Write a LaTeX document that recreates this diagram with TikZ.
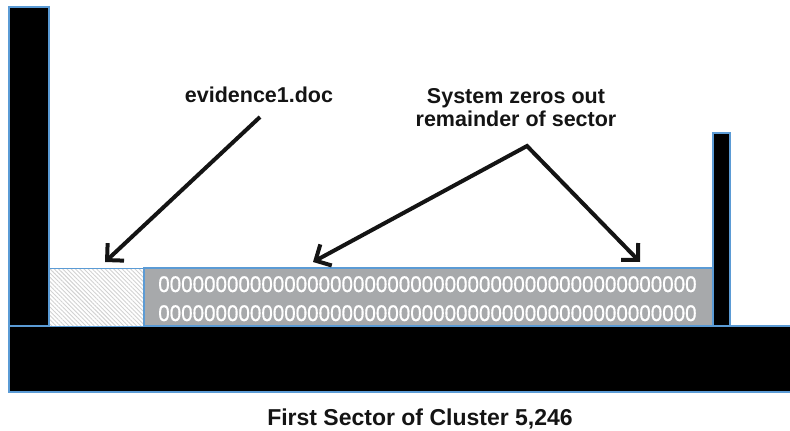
\documentclass[tikz,border=0pt]{standalone}
\usepackage{fontspec}
\setmainfont{Liberation Sans}
\newfontfamily\zerofont[FakeBold=0.7]{Liberation Sans}
\usetikzlibrary{arrows.meta,patterns.meta}
\definecolor{edgeblue}{HTML}{5B9BD5}
\definecolor{zerogray}{HTML}{A7A9AB}
\definecolor{inkblack}{HTML}{141414}
\definecolor{hatchgray}{HTML}{D2D2D2}
\tikzset{
  barblock/.style={fill=black,draw=edgeblue,line width=1.2pt},
  hatchbox/.style={draw=edgeblue,line width=1pt,pattern color=hatchgray,pattern={Lines[angle=-45,distance=3pt,line width=0.9pt]}},
  zerobox/.style={fill=zerogray,draw=edgeblue,line width=1.2pt},
  zerotext/.style={font=\fontsize{20.6}{24}\zerofont,text=white,anchor=base,inner sep=0pt,yscale=1.1},
  label/.style={font=\fontsize{21.5}{24}\selectfont\bfseries,text=inkblack,anchor=base,inner sep=0pt},
  pointer/.style={draw=inkblack,line width=4pt,-{Straight Barb[length=12pt,width=24pt]}}
}
\begin{document}
\begin{tikzpicture}[x=1pt,y=-1pt]
\useasboundingbox (0,0) rectangle (790,431);
% blocks
\draw[barblock] (9,7) rectangle (49,326);
\draw[barblock] (713,133) rectangle (730,326);
\draw[barblock] (9,326) rectangle (795,392);
\fill[white] (49,268) rectangle (144,326);
\draw[hatchbox] (49,268) rectangle (144,326);
\draw[zerobox] (144,268) rectangle (713,326);
% zeros
\node[zerotext] (z1) at (427.5,292) {00000000000000000000000000000000000000000000000};
\node[zerotext] (z2) at (427.5,321) {00000000000000000000000000000000000000000000000};
% labels
\node[label] (ev) at (259,102) {evidence1.doc};
\node[label] (sz1) at (516,103) {System zeros out};
\node[label] (sz2) at (516,126) {remainder of sector};
\node[font=\fontsize{23}{26}\selectfont\bfseries,text=inkblack,anchor=base,inner sep=0pt] (cap) at (420,425) {First Sector of Cluster 5,246};
% arrow coordinates
\coordinate (evs) at (260,117);
\coordinate (evt) at (105,262);
\coordinate (apex) at (527,146);
\coordinate (lt) at (313,262);
\coordinate (rt) at (640,262);
\draw[pointer] (evs) -- (evt);
\draw[pointer,line join=miter,{Straight Barb[length=12pt,width=24pt]}-{Straight Barb[length=12pt,width=24pt]}] (lt) -- (apex) -- (rt);
\end{tikzpicture}
\end{document}
